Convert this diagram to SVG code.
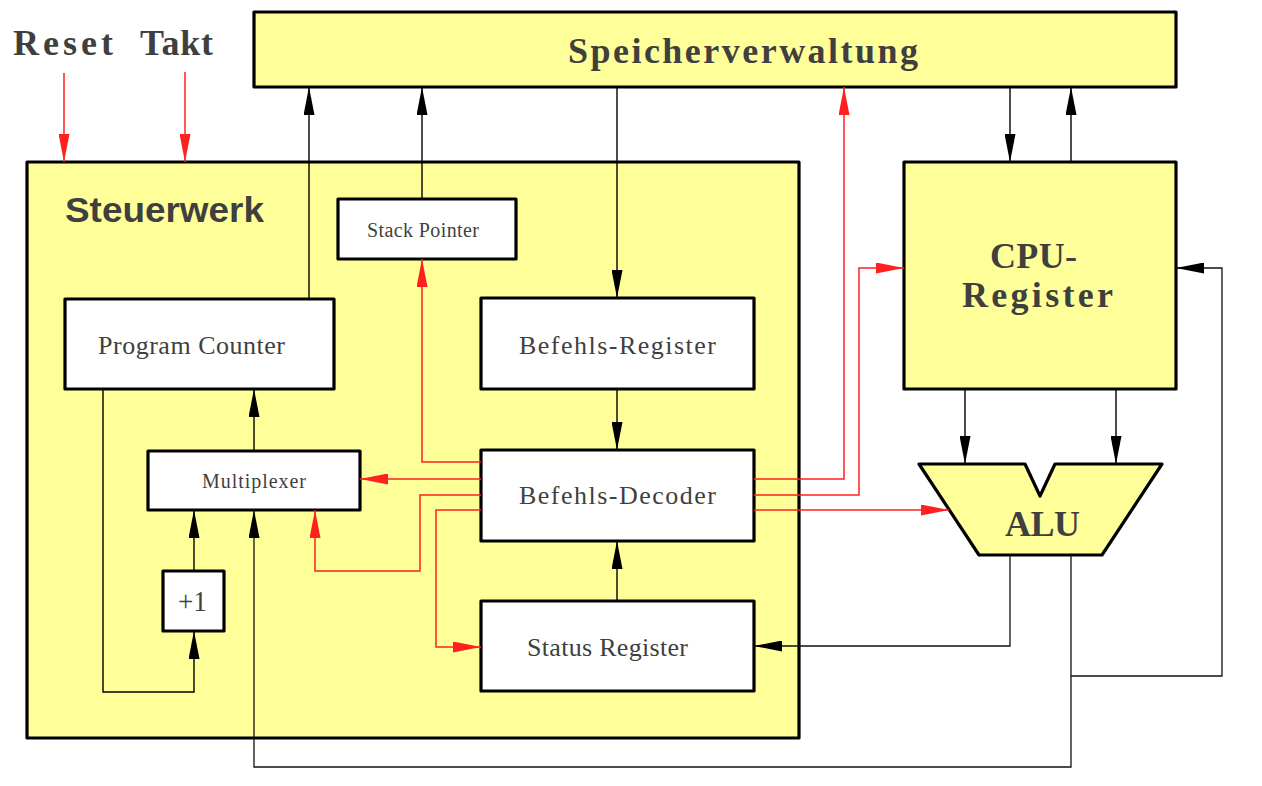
<svg xmlns="http://www.w3.org/2000/svg" width="1262" height="786" viewBox="0 0 1262 786">
<style>
.box{fill:#ffff99;stroke:#000;stroke-width:3.2;stroke-linejoin:round}
.wbox{fill:#fff;stroke:#000;stroke-width:3.2;stroke-linejoin:round}
.ln{fill:none;stroke:#000;stroke-width:1.4}
.ln2{fill:none;stroke:#111;stroke-width:1.3}
.rd{fill:none;stroke:#ff2020;stroke-width:1.5}
.big{font-family:"Liberation Serif",serif;font-weight:bold;font-size:36px;fill:#3f3f3f}
.sans{font-family:"Liberation Sans",sans-serif;font-weight:bold;font-size:35px;fill:#3f3f3f}
.lbl{font-family:"Liberation Serif",serif;font-size:26px;fill:#3f3f3f}
.sm{font-family:"Liberation Serif",serif;font-size:20px;fill:#3f3f3f}
.pl{font-family:"Liberation Serif",serif;font-size:29px;fill:#3f3f3f}
</style>
<defs>
<marker id="ab" markerUnits="userSpaceOnUse" markerWidth="28" markerHeight="11" refX="28" refY="5.5" orient="auto"><path d="M0,0 L28,5.5 L0,11 z" fill="#000"/></marker>
<marker id="ar" markerUnits="userSpaceOnUse" markerWidth="28" markerHeight="11" refX="28" refY="5.5" orient="auto"><path d="M0,0 L28,5.5 L0,11 z" fill="#ff2020"/></marker>
</defs>
<rect width="1262" height="786" fill="#fff"/>

<g id="labels">
<text class="big" x="13" y="55" textLength="100" lengthAdjust="spacing">Reset</text>
<text class="big" x="140" y="55" textLength="73" lengthAdjust="spacing">Takt</text>
</g>

<g id="speicherverwaltung">
<rect class="box" x="254" y="12" width="922" height="75"/>
<text class="big" x="568" y="63" textLength="350" lengthAdjust="spacing">Speicherverwaltung</text>
</g>

<g id="steuerwerk">
<rect class="box" x="27" y="162" width="772" height="576"/>
<text class="sans" x="65" y="222" textLength="199" lengthAdjust="spacingAndGlyphs">Steuerwerk</text>
</g>

<g id="cpu-register">
<rect class="box" x="904" y="162" width="272" height="227"/>
<text class="big" x="990" y="268" textLength="87" lengthAdjust="spacing">CPU-</text>
<text class="big" x="962" y="307" textLength="151" lengthAdjust="spacing">Register</text>
</g>

<g id="alu">
<path class="box" d="M919,464 L1025,464 L1040,496 L1055,464 L1162,464 L1102,555 L979,555 Z"/>
<text class="big" x="1005" y="536" textLength="75" lengthAdjust="spacing">ALU</text>
</g>

<g id="program-counter">
<rect class="wbox" x="65" y="299" width="269" height="90"/>
<text class="lbl" x="98" y="354" textLength="187" lengthAdjust="spacing">Program Counter</text>
</g>

<g id="stack-pointer">
<rect class="wbox" x="338" y="199" width="178" height="60"/>
<text class="sm" x="367" y="237" textLength="112" lengthAdjust="spacing">Stack Pointer</text>
</g>

<g id="befehls-register">
<rect class="wbox" x="481" y="298" width="273" height="91"/>
<text class="lbl" x="519" y="354" textLength="197" lengthAdjust="spacing">Befehls-Register</text>
</g>

<g id="multiplexer">
<rect class="wbox" x="148" y="451" width="212" height="59"/>
<text class="sm" x="202" y="488" textLength="104" lengthAdjust="spacing">Multiplexer</text>
</g>

<g id="befehls-decoder">
<rect class="wbox" x="481" y="450" width="273" height="91"/>
<text class="lbl" x="519" y="504" textLength="197" lengthAdjust="spacing">Befehls-Decoder</text>
</g>

<g id="plus-one">
<rect class="wbox" x="163" y="571" width="61" height="60"/>
<text class="pl" x="178" y="611" textLength="29" lengthAdjust="spacingAndGlyphs">+1</text>
</g>

<g id="status-register">
<rect class="wbox" x="481" y="601" width="273" height="90"/>
<text class="lbl" x="527" y="656" textLength="161" lengthAdjust="spacing">Status Register</text>
</g>

<g id="connectors">
<path class="rd" d="M64,73 L64,162" marker-end="url(#ar)"/>
<path class="rd" d="M185,72 L185,162" marker-end="url(#ar)"/>
<path class="ln" d="M309,299 L309,87" marker-end="url(#ab)"/>
<path class="ln" d="M422,199 L422,87" marker-end="url(#ab)"/>
<path class="ln" d="M617,87 L617,298" marker-end="url(#ab)"/>
<path class="ln" d="M617,389 L617,450" marker-end="url(#ab)"/>
<path class="ln" d="M617,601 L617,541" marker-end="url(#ab)"/>
<path class="ln" d="M1010,87 L1010,162" marker-end="url(#ab)"/>
<path class="ln" d="M1071,162 L1071,87" marker-end="url(#ab)"/>
<path class="ln" d="M965,389 L965,464" marker-end="url(#ab)"/>
<path class="ln" d="M1116,389 L1116,464" marker-end="url(#ab)"/>
<path class="ln" d="M254,451 L254,389" marker-end="url(#ab)"/>
<path class="ln" d="M194,571 L194,510" marker-end="url(#ab)"/>
<path class="ln" d="M103,389 L103,692 L194,692 L194,631" marker-end="url(#ab)"/>
<path class="ln2" d="M1010,555 L1010,646 L754,646" marker-end="url(#ab)"/>
<path class="ln2" d="M1071,555 L1071,676 L1222,676 L1222,268 L1176,268" marker-end="url(#ab)"/>
<path class="ln2" d="M1071,676 L1071,767 L254,767 L254,510" marker-end="url(#ab)"/>
<path class="rd" d="M481,462 L422,462 L422,259" marker-end="url(#ar)"/>
<path class="rd" d="M481,479 L360,479" marker-end="url(#ar)"/>
<path class="rd" d="M481,495 L420,495 L420,571 L315,571 L315,510" marker-end="url(#ar)"/>
<path class="rd" d="M481,510 L436,510 L436,647 L481,647" marker-end="url(#ar)"/>
<path class="rd" d="M754,479 L844,479 L844,87" marker-end="url(#ar)"/>
<path class="rd" d="M754,495 L859,495 L859,268 L904,268" marker-end="url(#ar)"/>
<path class="rd" d="M754,510 L949,510" marker-end="url(#ar)"/>
</g>
</svg>
